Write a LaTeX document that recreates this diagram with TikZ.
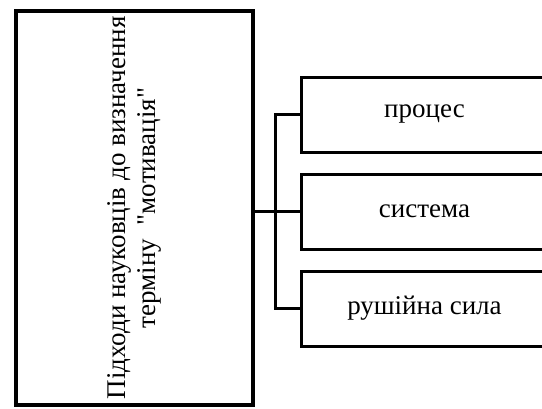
\documentclass[tikz,border=0pt]{standalone}
\usepackage{fontspec}
\setmainfont{Liberation Serif}[Ligatures=TeXOff]
\usetikzlibrary{positioning}

\begin{document}
\begin{tikzpicture}[x=1pt,y=-1pt,font=\fontsize{27}{30}\selectfont,
    bigbox/.style={draw, line width=4pt, inner sep=0pt, align=center},
    itembox/.style={draw, line width=3pt, inner sep=0pt,
      minimum width=247pt, minimum height=75pt},
    conn/.style={line width=3pt}]
  \useasboundingbox (0,0) rectangle (542,408);
  \clip (0,0) rectangle (542,408);
  % rotated box: its south side is the right edge
  \node (main) [bigbox, rotate=90, minimum width=394pt, minimum height=237pt]
    at (134.5,208) {Підходи науковців до визначення\\терміну~~"мотивація"};
  \node (proc) [itembox] at (424.5,114.5) {процес};
  \node (syst) [itembox, below=19pt of proc] {система};
  \node (rush) [itembox, below=19pt of syst] {рушійна сила};
  \coordinate (fork) at ([xshift=-24pt]syst.west);
  \draw[conn] (main.south |- fork) -- (syst.west);
  \draw[conn] (proc.west) -| (fork) |- (rush.west);
\end{tikzpicture}
\end{document}
